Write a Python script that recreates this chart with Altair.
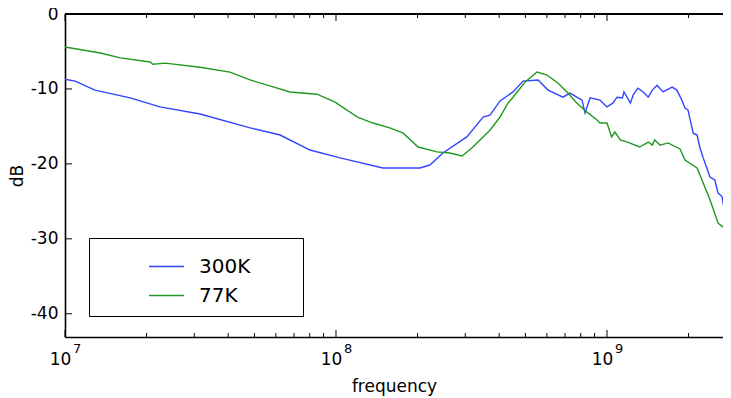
import altair as alt
import pandas as pd

# ---- data ----
freq_300K = [1.00e7, 1.09e7, 1.29e7, 1.74e7, 2.24e7, 3.15e7, 4.82e7, 6.22e7, 8.02e7, 1.035e8,
             1.49e8, 2.04e8, 2.22e8, 2.48e8, 3.04e8, 3.49e8, 3.70e8, 4.03e8, 4.50e8, 4.90e8,
             5.57e8, 6.06e8, 6.88e8, 7.30e8, 8.09e8, 8.30e8, 8.66e8, 9.42e8, 1.00e9, 1.05e9,
             1.09e9, 1.14e9, 1.155e9, 1.22e9, 1.25e9, 1.30e9, 1.36e9, 1.42e9, 1.47e9, 1.53e9,
             1.61e9, 1.74e9, 1.81e9, 1.89e9, 1.94e9, 1.99e9, 2.08e9, 2.15e9, 2.20e9, 2.26e9,
             2.40e9, 2.50e9, 2.57e9, 2.66e9, 2.73e9, 2.84e9]
db_300K = [-8.7, -8.95, -10.15, -11.2, -12.4, -13.35, -15.2, -16.15, -18.15, -19.2,
           -20.55, -20.55, -20.15, -18.55, -16.4, -13.75, -13.5, -11.6, -10.4, -8.95,
           -8.8, -10.15, -11.1, -10.55, -11.5, -13.2, -11.2, -11.5, -12.4, -11.9,
           -11.1, -11.2, -10.4, -11.9, -10.8, -9.9, -10.4, -11.1, -10.15, -9.5,
           -10.4, -9.75, -10.15, -11.5, -12.55, -12.8, -15.9, -16.15, -17.75, -19.1,
           -21.75, -22.15, -23.9, -24.4, -26.85, -25.5]

freq_77K = [1.00e7, 1.35e7, 1.60e7, 2.06e7, 2.11e7, 2.34e7, 3.15e7, 4.06e7, 4.82e7, 6.77e7,
            8.51e7, 9.92e7, 1.20e8, 1.37e8, 1.58e8, 1.77e8, 2.01e8, 2.36e8, 2.63e8, 2.92e8,
            3.20e8, 3.49e8, 3.70e8, 4.03e8, 4.31e8, 4.50e8, 4.98e8, 5.52e8, 6.01e8, 6.59e8,
            7.12e8, 7.75e8, 8.44e8, 9.19e8, 9.42e8, 1.00e9, 1.04e9, 1.07e9, 1.12e9, 1.19e9,
            1.32e9, 1.42e9, 1.47e9, 1.50e9, 1.57e9, 1.68e9, 1.86e9, 1.94e9, 2.15e9, 2.40e9,
            2.57e9, 2.68e9, 2.84e9]
db_77K = [-4.4, -5.2, -5.85, -6.4, -6.7, -6.55, -7.1, -7.75, -8.8, -10.4,
          -10.7, -11.75, -13.75, -14.55, -15.2, -15.9, -17.75, -18.4, -18.55, -18.95,
          -17.75, -16.4, -15.5, -13.75, -11.9, -11.1, -9.1, -7.75, -8.15, -9.2,
          -10.4, -11.9, -13.1, -14.15, -14.55, -14.55, -16.4, -15.75, -16.8, -17.1,
          -17.75, -17.1, -17.5, -16.8, -17.5, -17.2, -18.0, -19.5, -20.55, -24.8,
          -27.9, -28.45, -26.2]

series_names = ["300K", "77K"]
series_colors = ["#3344ff", "#229922"]

y_ticks = [0, -10, -20, -30, -40]
x_major = [1e7, 1e8, 1e9]
x_exponents = ["7", "8", "9"]
x_minor = [2e7, 3e7, 4e7, 5e7, 6e7, 7e7, 8e7, 9e7,
           2e8, 3e8, 4e8, 5e8, 6e8, 7e8, 8e8, 9e8, 2e9]
x_domain = [1e7, 2.68e9]
y_domain = [-43.1, 0]

W, H = 658, 323
FONT = "DejaVu Sans"

df = pd.concat([
    pd.DataFrame({"f": freq_300K, "dB": db_300K, "series": "300K"}),
    pd.DataFrame({"f": freq_77K, "dB": db_77K, "series": "77K"}),
])

xs = alt.Scale(type="log", domain=x_domain, nice=False)
ys = alt.Scale(domain=y_domain, nice=False, zero=False)
x_axis = alt.Axis(values=x_major, ticks=False, grid=False, labelExpr="'10'",
                  labelFlush=False, labelPadding=14, labelOffset=-5, titlePadding=11,
                  labelFontSize=17)
y_axis = alt.Axis(values=y_ticks, ticks=False, grid=False,
                  labelExpr="'' + datum.value", labelPadding=7, titlePadding=4)

def X():
    return alt.X("f:Q", scale=xs, title="frequency", axis=x_axis)

def Y():
    return alt.Y("dB:Q", scale=ys, title="dB", axis=y_axis)

pad_label = "\u00a0" * 6 + "\u2009\u200b"
lines = alt.Chart(df).mark_line(strokeWidth=1.4, clip=True).encode(
    x=X(), y=Y(),
    color=alt.Color("series:N",
                    scale=alt.Scale(domain=series_names, range=series_colors),
                    legend=alt.Legend(orient="none", legendX=24, legendY=224, title=None,
                                      padding=10, symbolType="stroke", symbolSize=1225,
                                      symbolStrokeWidth=1.5, symbolOffset=49, labelOffset=14,
                                      labelFontSize=20, labelFont=FONT, labelColor="black",
                                      rowPadding=-6, strokeColor="black", fillColor="white",
                                      labelExpr="datum.label + '" + pad_label + "'")),
)

ydf = pd.DataFrame({"dB": y_ticks})
xmaj = pd.DataFrame({"f": x_major, "exp": x_exponents})
xmin = pd.DataFrame({"f": x_minor})

tick_style = dict(color="black", strokeWidth=1)
left_ticks = alt.Chart(ydf).mark_rule(**tick_style).encode(
    y=Y(), x=alt.value(0), x2=alt.value(7))
bot_major = alt.Chart(xmaj).mark_rule(**tick_style).encode(
    x=X(), y=alt.value(H), y2=alt.value(H - 7))
top_major = alt.Chart(xmaj).mark_rule(**tick_style).encode(
    x=X(), y=alt.value(0), y2=alt.value(7))
bot_minor = alt.Chart(xmin).mark_rule(**tick_style).encode(
    x=X(), y=alt.value(H), y2=alt.value(H - 4))
top_minor = alt.Chart(xmin).mark_rule(**tick_style).encode(
    x=X(), y=alt.value(0), y2=alt.value(4))
top_spine = alt.Chart(xmaj).mark_rule(color="black", strokeWidth=1.6).encode(
    x=alt.value(0), x2=alt.value(W), y=alt.value(0))
exps = alt.Chart(xmaj).mark_text(align="left", baseline="top", dx=8, fontSize=13,
                                 font=FONT, color="black").encode(
    x=X(), y=alt.value(H + 6), text="exp:N")

chart = alt.layer(lines, left_ticks, bot_major, top_major, bot_minor, top_minor,
                  top_spine, exps).properties(
    width=W, height=H,
    autosize=alt.AutoSizeParams(type="none"),
    padding={"left": 57, "top": 6, "right": 0, "bottom": 60},
).configure_view(stroke=None).configure_axis(
    domainColor="black", domainWidth=1.6, labelFont=FONT, labelFontSize=17,
    labelColor="black", titleFont=FONT, titleFontSize=17, titleColor="black",
    titleFontWeight="normal",
)

chart.save("out.html", embed_options={"renderer": "svg", "actions": False})
